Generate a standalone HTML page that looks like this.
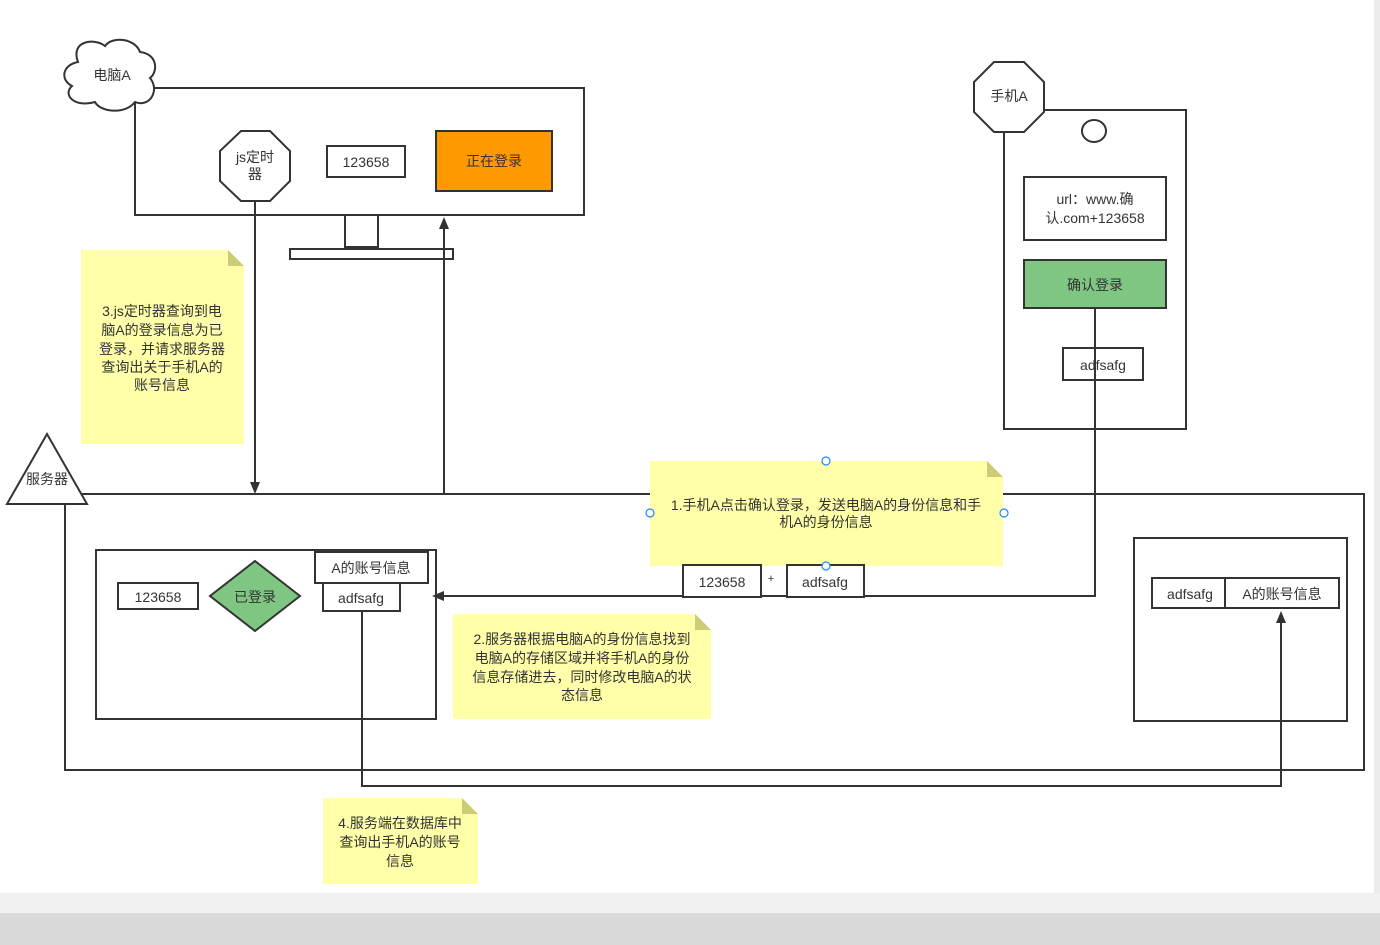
<!DOCTYPE html>
<html><head><meta charset="utf-8"><style>
html,body{margin:0;padding:0;width:1380px;height:945px;overflow:hidden;background:#fff}
svg{display:block}
text{font-family:"Liberation Sans","Noto Sans CJK SC",sans-serif;font-size:14px;fill:#333;text-anchor:middle}
</style></head><body>
<svg width="1380" height="945" viewBox="0 0 1380 945">
<rect x="1374" y="0" width="6" height="945" fill="#ececec"/>
<rect x="0" y="893" width="1380" height="20" fill="#f0f0f0"/>
<rect x="0" y="913" width="1380" height="32" fill="#d9d9d9"/>
<g fill="none" stroke="#333" stroke-width="2">
<!-- monitor -->
<rect x="135" y="88" width="449" height="127" fill="#fff"/>
<rect x="345" y="215" width="33" height="32"/>
<rect x="290" y="249" width="163" height="10"/>
<!-- cloud -->
<path d="M78,62 C70,40 95,38 105,46 C112,36 135,38 140,52 C158,54 158,72 150,78 C160,90 150,108 135,102 C125,115 100,112 95,102 C75,108 62,95 72,86 C60,80 62,65 78,62 Z" fill="#fff"/>
<!-- js octagon -->
<polygon points="241,131 270,131 290,151 290,181 270,201 241,201 220,181 220,151" fill="#fff"/>
<rect x="327" y="146" width="78" height="31" fill="#fff"/>
<rect x="436" y="131" width="116" height="60" fill="#ff9900"/>
<!-- sticky notes -->
<path d="M81,250 H228 L244,266 V444 H81 Z" fill="#ffffaa" stroke="none"/>
<path d="M228,250 L244,266 H228 Z" fill="#cccc77" stroke="none"/>
<!-- server -->
<rect x="65" y="494" width="1299" height="276"/>
<polygon points="7,504 47,434 87,504" fill="#fff"/>
<rect x="96" y="550" width="340" height="169"/>
<rect x="118" y="583" width="80" height="26" fill="#fff"/>
<polygon points="255,561 300,596 255,631 210,596" fill="#7fc683"/>
<rect x="315" y="552" width="113" height="31" fill="#fff"/>
<rect x="323" y="583" width="77" height="28" fill="#fff"/>
<rect x="1134" y="538" width="213" height="183"/>
<rect x="1152" y="578" width="73" height="30" fill="#fff"/>
<rect x="1225" y="578" width="114" height="30" fill="#fff"/>
<!-- phone -->
<rect x="1004" y="110" width="182" height="319" fill="#fff"/>
<polygon points="994,62 1024,62 1044,82 1044,112 1024,132 994,132 974,112 974,82" fill="#fff"/>
<ellipse cx="1094" cy="131" rx="12" ry="11"/>
<rect x="1024" y="177" width="142" height="63" fill="#fff"/>
<rect x="1024" y="260" width="142" height="48" fill="#7fc683"/>
<rect x="1063" y="348" width="80" height="32" fill="#fff"/>
<!-- connectors -->
<polyline points="255,201 255,485"/>
<polyline points="444,493 444,226"/>
<polyline points="1095,308 1095,596 441,596"/>
<polyline points="362,611 362,786 1281,786 1281,620"/>
</g>
<g fill="#333">
<polygon points="250,482 260,482 255,494"/>
<polygon points="439,229 449,229 444,217"/>
<polygon points="444,591 444,601 432,596"/>
<polygon points="1276,623 1286,623 1281,611"/>
</g>
<!-- sticky 1,2,4 -->
<path d="M650,461 H987 L1003,477 V566 H650 Z" fill="#ffffaa"/>
<path d="M987,461 L1003,477 H987 Z" fill="#cccc77"/>
<path d="M453,614 H695 L711,630 V719 H453 Z" fill="#ffffaa"/>
<path d="M695,614 L711,630 H695 Z" fill="#cccc77"/>
<path d="M323,798 H462 L478,814 V884 H323 Z" fill="#ffffaa"/>
<path d="M462,798 L478,814 H462 Z" fill="#cccc77"/>
<g fill="#fff" stroke="#333" stroke-width="2">
<rect x="683" y="565" width="78" height="32"/>
<rect x="787" y="565" width="77" height="32"/>
</g>
<g fill="#fff" stroke="#1e88ff" stroke-width="1.2">
<circle cx="826" cy="461" r="4"/><circle cx="650" cy="513" r="4"/><circle cx="1004" cy="513" r="4"/><circle cx="826" cy="566" r="4"/>
</g>
<!-- text -->
<text x="112" y="80">电脑A</text>
<text x="255" y="162">js定时</text>
<text x="255" y="179">器</text>
<text x="366" y="167">123658</text>
<text x="494" y="166">正在登录</text>
<text x="162" y="316">3.js定时器查询到电</text>
<text x="162" y="335">脑A的登录信息为已</text>
<text x="162" y="354">登录，并请求服务器</text>
<text x="162" y="372">查询出关于手机A的</text>
<text x="162" y="390">账号信息</text>
<text x="47" y="484">服务器</text>
<text x="158" y="602">123658</text>
<text x="255" y="602">已登录</text>
<text x="371" y="573">A的账号信息</text>
<text x="361" y="603">adfsafg</text>
<text x="826" y="510">1.手机A点击确认登录，发送电脑A的身份信息和手</text>
<text x="826" y="527">机A的身份信息</text>
<text x="722" y="587">123658</text>
<text x="771" y="582" style="font-size:11px">+</text>
<text x="825" y="587">adfsafg</text>
<text x="582" y="644">2.服务器根据电脑A的身份信息找到</text>
<text x="582" y="663">电脑A的存储区域并将手机A的身份</text>
<text x="582" y="682">信息存储进去，同时修改电脑A的状</text>
<text x="582" y="700">态信息</text>
<text x="400" y="828">4.服务端在数据库中</text>
<text x="400" y="847">查询出手机A的账号</text>
<text x="400" y="866">信息</text>
<text x="1009" y="101">手机A</text>
<text x="1095" y="204">url：www.确</text>
<text x="1095" y="223">认.com+123658</text>
<text x="1095" y="290">确认登录</text>
<text x="1103" y="370">adfsafg</text>
<text x="1190" y="599">adfsafg</text>
<text x="1282" y="599">A的账号信息</text>
</svg>
</body></html>
